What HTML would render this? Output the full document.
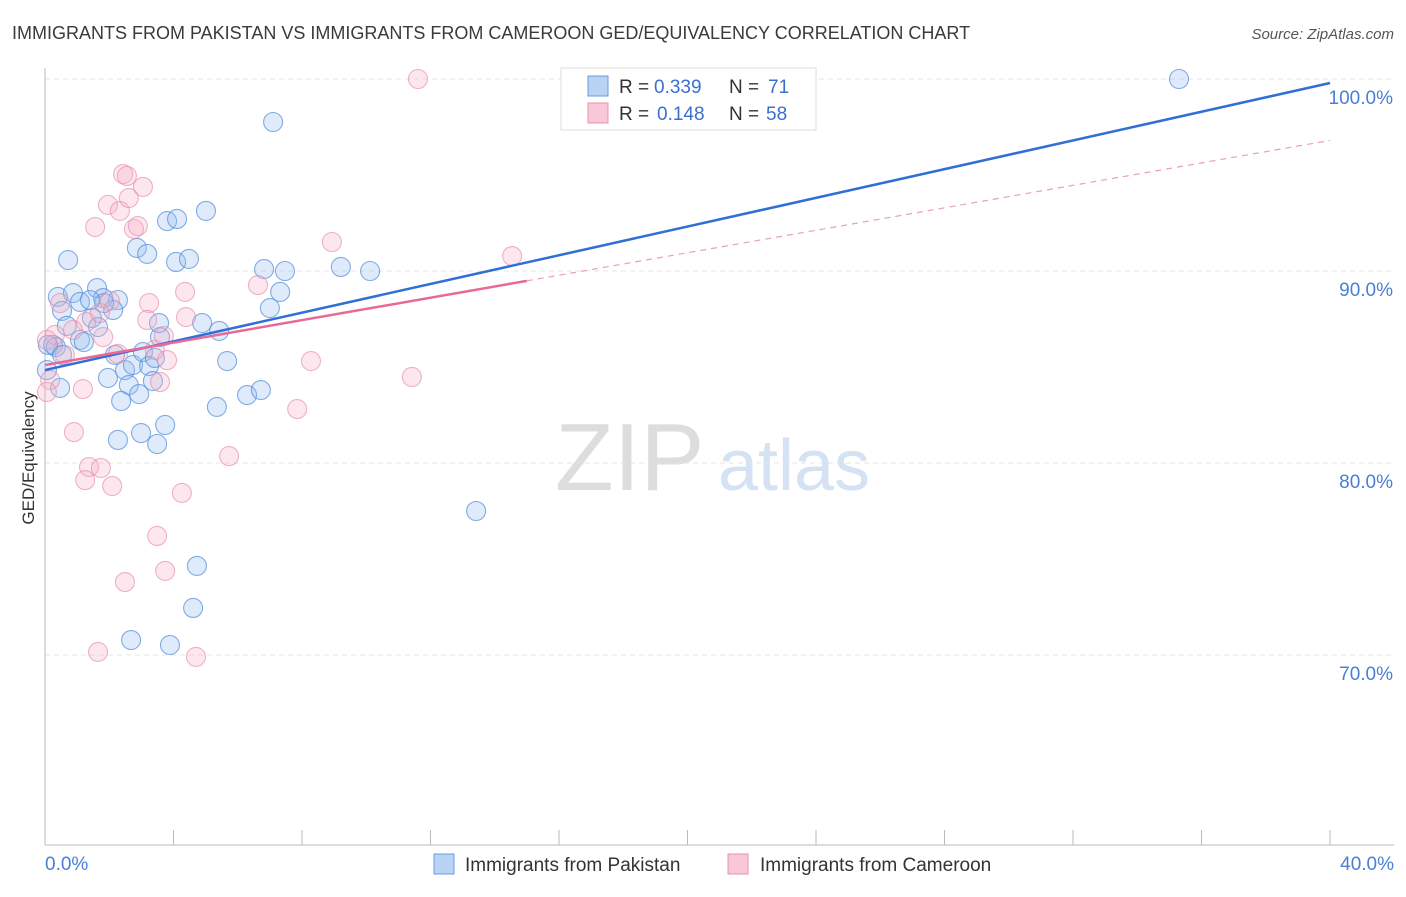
<!DOCTYPE html>
<html><head><meta charset="utf-8"><style>
body{margin:0;background:#fff;font-family:"Liberation Sans",sans-serif;}
svg text{font-family:"Liberation Sans",sans-serif;}
</style></head><body>
<svg id="chart" width="1406" height="892" xmlns="http://www.w3.org/2000/svg">
<text x="12" y="39" font-size="18" fill="#3a3a3a">IMMIGRANTS FROM PAKISTAN VS IMMIGRANTS FROM CAMEROON GED/EQUIVALENCY CORRELATION CHART</text>
<text x="1394" y="39" font-size="15" fill="#555" text-anchor="end" font-style="italic">Source: ZipAtlas.com</text>
<g>
<text x="555" y="490" font-size="96" fill="#ddd" font-family="Liberation Serif">ZIP</text>
<text x="718" y="490" font-size="72" fill="#d4e2f4">atlas</text>
</g>
<g id="grid"></g><g id="axes"></g><g id="points"></g><g id="trends"></g>
<text transform="translate(34,458) rotate(-90)" font-size="17" fill="#333" text-anchor="middle">GED/Equivalency</text>
<g>
<rect x="561" y="68" width="255" height="62" fill="#fff" stroke="#ddd"/>
<rect x="588" y="76" width="20" height="20" fill="#b8d3f3" stroke="#6a9be0"/>
<rect x="588" y="103" width="20" height="20" fill="#f8c8d8" stroke="#e890ac"/>
<text x="619" y="93" font-size="19" fill="#333">R =</text>
<text x="654" y="93" font-size="19" fill="#3a6fd0">0.339</text>
<text x="729" y="93" font-size="19" fill="#333">N =</text>
<text x="768" y="93" font-size="19" fill="#3a6fd0">71</text>
<text x="619" y="120" font-size="19" fill="#333">R =</text>
<text x="657" y="120" font-size="19" fill="#3a6fd0">0.148</text>
<text x="729" y="120" font-size="19" fill="#333">N =</text>
<text x="766" y="120" font-size="19" fill="#3a6fd0">58</text>
</g>
<g>
<rect x="434" y="854" width="20" height="20" fill="#b8d3f3" stroke="#6a9be0"/>
<text x="465" y="871" font-size="19" fill="#333">Immigrants from Pakistan</text>
<rect x="728" y="854" width="20" height="20" fill="#f8c8d8" stroke="#e890ac"/>
<text x="760" y="871" font-size="19" fill="#333">Immigrants from Cameroon</text>
</g>
</svg>
<script>
const yTicks=[70,80,90,100];
const yTickLabels=["70.0%","80.0%","90.0%","100.0%"];
const xTickLabels=["0.0%","40.0%"];
const blueX=[0.72,0.40,0.87,1.62,1.09,2.27,1.81,0.53,2.12,1.46,0.68,1.65,1.09,0.25,0.34,1.21,2.18,1.96,2.49,2.61,2.37,2.93,2.74,3.05,3.24,3.36,3.42,3.58,3.55,2.86,3.18,3.80,4.11,4.08,4.48,5.01,4.89,5.42,5.67,5.35,3.74,2.99,3.49,2.27,6.29,6.72,6.82,7.47,7.32,7.00,7.10,9.21,10.12,13.42,4.73,4.61,2.68,3.89,35.30,16.37,0.06,0.09,0.47,1.84,0.53,1.40];
const blueY=[90.57,88.65,88.85,89.11,88.39,88.49,88.59,87.92,87.97,87.55,87.14,87.08,86.41,86.15,86.04,86.30,85.63,84.43,84.84,84.06,83.23,83.59,85.10,85.78,85.05,84.27,85.47,86.56,87.29,91.20,90.89,92.60,92.71,90.47,90.63,93.13,87.29,86.88,85.31,82.92,81.98,81.56,80.99,81.20,83.54,83.80,90.10,90.00,88.91,88.07,97.76,90.21,90.00,77.50,74.64,72.45,70.78,70.52,100,100,84.84,86.15,83.91,88.33,85.63,88.49];
const pinkX=[11.61,2.43,2.55,3.05,1.96,2.33,2.61,1.56,2.77,2.89,8.93,14.54,6.63,4.36,3.24,2.02,0.47,4.39,3.18,1.28,1.81,0.87,0.31,0.62,2.27,3.42,3.80,3.58,3.70,8.28,11.42,7.85,5.73,1.18,0.90,1.37,1.74,1.25,2.09,4.26,3.49,3.74,2.49,1.65,4.70,0.16,0.06,0.06,1.71];
const pinkY=[100,95.05,94.95,94.38,93.44,93.13,93.80,92.29,92.19,92.34,91.51,90.78,89.27,88.91,88.33,88.44,88.33,87.60,87.45,87.34,86.56,86.93,86.67,85.63,85.68,85.89,85.36,84.22,86.61,85.31,84.48,82.81,80.36,83.85,81.61,79.79,79.74,79.11,78.80,78.44,76.20,74.38,73.80,70.16,69.90,84.32,83.70,86.41,87.81];
const blueTrend=[84.84,99.79];
const pinkTrend=[85.1,96.8];
const pinkSolidEnd=15.0;
const NS="http://www.w3.org/2000/svg";
const xs=v=>45+v/40*1285;
const ys=v=>79+(100-v)*19.2;
function mk(tag,attrs,parent){const e=document.createElementNS(NS,tag);for(const k in attrs)e.setAttribute(k,attrs[k]);document.getElementById(parent).appendChild(e);return e;}
yTicks.forEach((t,i)=>{
 const g=mk('line',{x1:45,x2:1394,y1:ys(t),y2:ys(t),stroke:'#e4e4e4','stroke-dasharray':'5,4'},'grid');
 
 
 const l=mk('text',{x:1393,y:ys(t)+25,'font-size':19,fill:'#4a7fd4','text-anchor':'end'},'axes');
 l.textContent=yTickLabels[i];
 
 
});
const ya=mk('line',{x1:45,x2:45,y1:68,y2:845,stroke:'#bbb'},'axes');


const xa=mk('line',{x1:45,x2:1394,y1:845,y2:845,stroke:'#bbb'},'axes');


for(let i=0;i<=10;i++){const t=mk('line',{x1:xs(i*4),x2:xs(i*4),y1:830,y2:845,stroke:'#bbb'},'axes');
 
 }
[[0,'start',45],[40,'end',1394]].forEach((d,i)=>{const l=mk('text',{x:d[2],y:870,'font-size':19,fill:'#4a7fd4','text-anchor':d[1]},'axes');l.textContent=xTickLabels[i];
 
 });
blueX.forEach((v,i)=>{const c=mk('circle',{cx:xs(v),cy:ys(blueY[i]),r:9.5,fill:'rgba(150,190,240,0.3)',stroke:'rgba(80,140,220,0.7)','stroke-width':1.1},'points');
 
 });
pinkX.forEach((v,i)=>{const c=mk('circle',{cx:xs(v),cy:ys(pinkY[i]),r:9.5,fill:'rgba(245,175,200,0.3)',stroke:'rgba(230,140,170,0.65)','stroke-width':1.1},'points');
 
 });
const bt=mk('line',{x1:xs(0),y1:ys(blueTrend[0]),x2:xs(40),y2:ys(blueTrend[1]),stroke:'#2f6fd6','stroke-width':2.5},'trends');


const pAt=x=>pinkTrend[0]+(pinkTrend[1]-pinkTrend[0])*x/40;
const pt=mk('line',{x1:xs(0),y1:ys(pAt(0)),x2:xs(pinkSolidEnd),y2:ys(pAt(pinkSolidEnd)),stroke:'#e86896','stroke-width':2.5},'trends');


const pd=mk('line',{x1:xs(pinkSolidEnd),y1:ys(pAt(pinkSolidEnd)),x2:xs(40),y2:ys(pAt(40)),stroke:'#e8a0b8','stroke-width':1.2,'stroke-dasharray':'6,5'},'trends');


</script>
</body></html>
